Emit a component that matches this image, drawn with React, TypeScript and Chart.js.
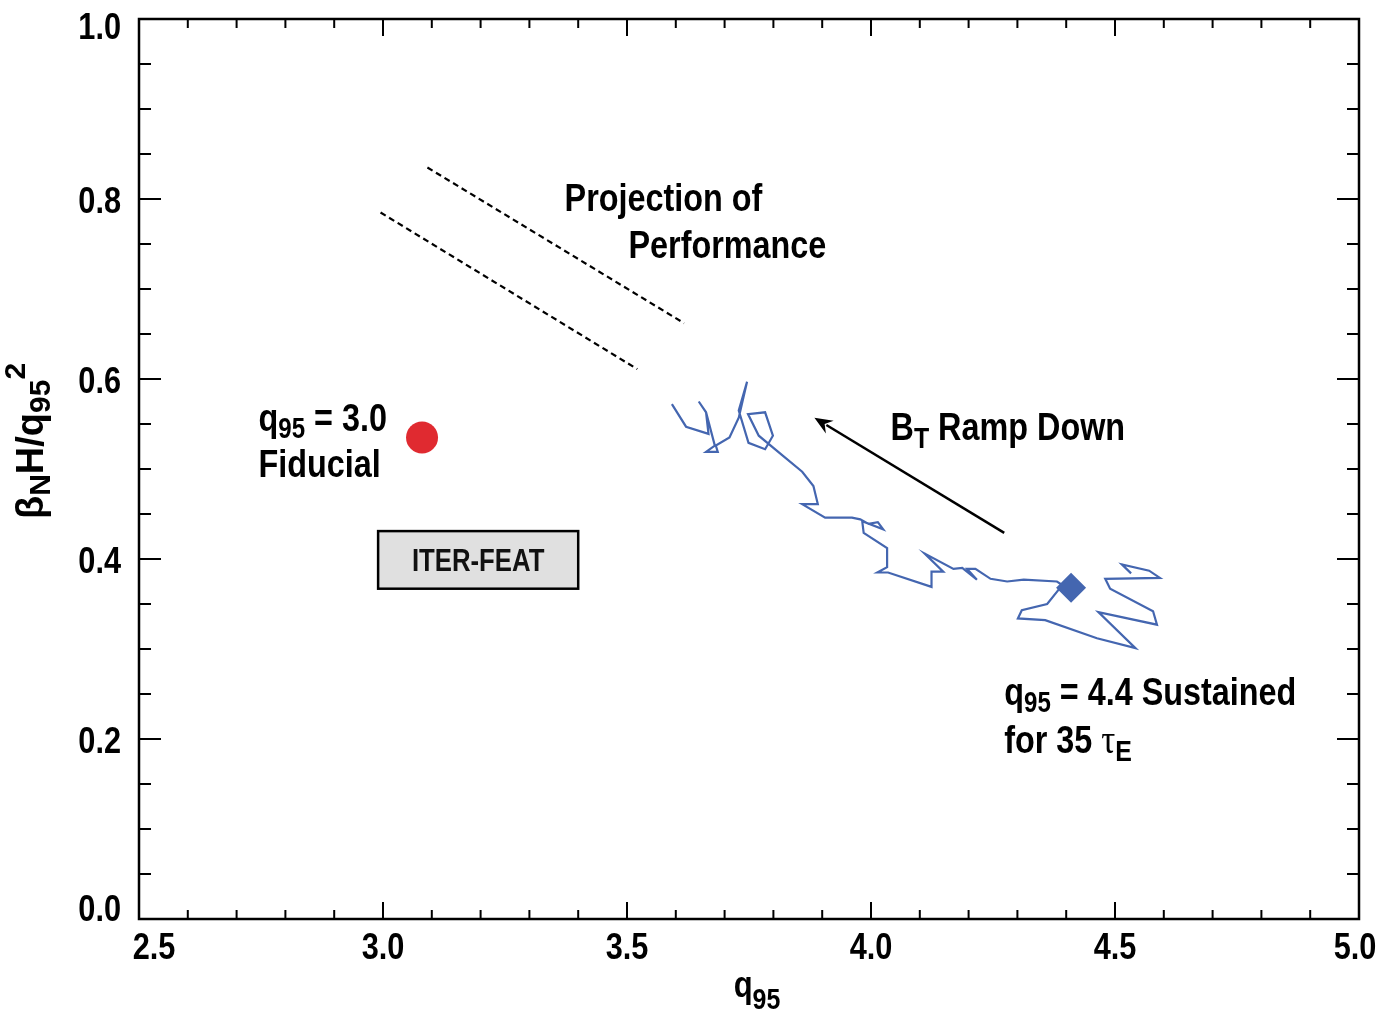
import { useEffect, useRef } from 'react';
import { Chart, registerables } from 'chart.js';

Chart.register(...registerables);

// Discharge trajectory during the toroidal-field ramp down (q95, betaN*H/q95^2)
const traceQ95 = [
  3.592, 3.621, 3.667, 3.662, 3.647, 3.662, 3.680, 3.662, 3.686, 3.682,
  3.710, 3.729, 3.746, 3.729, 3.749, 3.783, 3.799, 3.783, 3.748, 3.770,
  3.821, 3.859, 3.882, 3.891, 3.859, 3.906, 3.961, 3.978, 3.995, 4.014,
  4.025, 3.982, 3.985, 4.033, 4.033, 4.013, 4.035, 4.124, 4.124, 4.148,
  4.110, 4.169, 4.187, 4.217, 4.197, 4.214, 4.245, 4.279, 4.313, 4.381,
  4.392, 4.361, 4.309, 4.301, 4.357, 4.463, 4.542, 4.466, 4.586, 4.578,
  4.490, 4.480, 4.592, 4.570, 4.514, 4.533,
];
const traceBeta = [
  0.572, 0.547, 0.539, 0.563, 0.575, 0.563, 0.526, 0.519, 0.519, 0.526,
  0.535, 0.557, 0.597, 0.565, 0.529, 0.522, 0.537, 0.563, 0.561, 0.537,
  0.514, 0.497, 0.481, 0.461, 0.461, 0.446, 0.446, 0.444, 0.439, 0.441,
  0.433, 0.442, 0.429, 0.412, 0.391, 0.385, 0.385, 0.369, 0.386, 0.386,
  0.406, 0.389, 0.390, 0.377, 0.389, 0.389, 0.378, 0.375, 0.377, 0.375,
  0.371, 0.350, 0.343, 0.334, 0.332, 0.312, 0.301, 0.341, 0.327, 0.342,
  0.367, 0.378, 0.379, 0.387, 0.394, 0.384,
];

// Operating points
const sustainedQ95 = [4.41];
const sustainedBeta = [0.368];
const fiducialQ95 = [3.08];
const fiducialBeta = [0.535];

// ITER-FEAT design window
const iterFeatQ95 = [2.99, 3.4];
const iterFeatBeta = [0.367, 0.431];

// Projected performance lines
const projUpperQ95 = [3.091, 3.617];
const projUpperBeta = [0.835, 0.662];
const projLowerQ95 = [2.995, 3.521];
const projLowerBeta = [0.785, 0.611];

// B_T ramp-down direction
const rampQ95 = [4.273, 3.884];
const rampBeta = [0.429, 0.557];

// Axes
const xRange = [2.5, 5.0];
const yRange = [0.0, 1.0];
const xMinorStep = 0.1;
const xMajorStep = 0.5;
const yMinorStep = 0.05;
const yMajorStep = 0.2;

const BLUE = '#4466b0';
const RED = '#e02a30';
const FONT = '"Liberation Sans", Arial, sans-serif';
const SERIF = '"Liberation Serif", "DejaVu Serif", serif';
const NARROW = 0.83;

type Seg = { t: string; size: number; dy?: number; family?: string; weight?: string };

const pts = (xs: number[], ys: number[]) => xs.map((x, i) => ({ x, y: ys[i] }));

function segFont(s: Seg) {
  return `${s.weight ?? 'bold'} ${s.size}px ${s.family ?? FONT}`;
}

function richWidth(ctx: CanvasRenderingContext2D, segs: Seg[], sx: number) {
  let w = 0;
  for (const s of segs) {
    ctx.font = segFont(s);
    w += ctx.measureText(s.t).width * sx;
  }
  return w;
}

// Draws mixed-size text (sub/superscripts) on a shared baseline, condensed by sx
function drawRich(
  ctx: CanvasRenderingContext2D,
  segs: Seg[],
  x: number,
  y: number,
  align: 'left' | 'center' | 'right' = 'left',
  sx = NARROW,
) {
  const total = richWidth(ctx, segs, sx);
  let cx = align === 'center' ? x - total / 2 : align === 'right' ? x - total : x;
  ctx.textBaseline = 'alphabetic';
  ctx.textAlign = 'left';
  for (const s of segs) {
    ctx.font = segFont(s);
    const w = ctx.measureText(s.t).width * sx;
    ctx.save();
    ctx.translate(cx, y + (s.dy ?? 0));
    ctx.scale(sx, 1);
    ctx.fillText(s.t, 0, 0);
    ctx.restore();
    cx += w;
  }
}

const isMultiple = (v: number, step: number) => Math.abs(v / step - Math.round(v / step)) < 1e-6;

// Notes anchored in data units (left edge, baseline)
const notes: { q: number; b: number; segs: Seg[] }[] = [
  { q: 3.372, b: 0.787, segs: [{ t: 'Projection of', size: 39 }] },
  { q: 3.503, b: 0.734, segs: [{ t: 'Performance', size: 39 }] },
  {
    q: 4.04, b: 0.532,
    segs: [{ t: 'B', size: 39 }, { t: 'T', size: 30, dy: 8 }, { t: ' Ramp Down', size: 39 }],
  },
  {
    q: 2.745, b: 0.542,
    segs: [{ t: 'q', size: 39 }, { t: '95', size: 29, dy: 7 }, { t: ' = 3.0', size: 39 }],
  },
  { q: 2.745, b: 0.491, segs: [{ t: 'Fiducial', size: 39 }] },
  {
    q: 4.273, b: 0.238,
    segs: [{ t: 'q', size: 39 }, { t: '95', size: 29, dy: 7 }, { t: ' = 4.4 Sustained', size: 39 }],
  },
  {
    q: 4.273, b: 0.184,
    segs: [
      { t: 'for 35 ', size: 39 },
      { t: 'τ', size: 42, family: SERIF, weight: 'normal' },
      { t: 'E', size: 30, dy: 8 },
    ],
  },
];

const framePlugin = {
  id: 'frameAndNotes',
  afterDatasetsDraw(chart: Chart) {
    const { ctx, chartArea: a } = chart;
    const xs = chart.scales.x;
    const ys = chart.scales.y;
    ctx.save();

    // ITER-FEAT window
    const bx0 = xs.getPixelForValue(iterFeatQ95[0]);
    const bx1 = xs.getPixelForValue(iterFeatQ95[1]);
    const by0 = ys.getPixelForValue(iterFeatBeta[1]);
    const by1 = ys.getPixelForValue(iterFeatBeta[0]);
    ctx.fillStyle = '#e0e0e0';
    ctx.fillRect(bx0, by0, bx1 - bx0, by1 - by0);
    ctx.strokeStyle = '#000';
    ctx.lineWidth = 2.5;
    ctx.strokeRect(bx0, by0, bx1 - bx0, by1 - by0);
    ctx.fillStyle = '#111';
    drawRich(ctx, [{ t: 'ITER-FEAT', size: 31 }], (bx0 + bx1) / 2, (by0 + by1) / 2 + 11, 'center');

    // Ramp-down arrow
    const tx = xs.getPixelForValue(rampQ95[0]);
    const ty = ys.getPixelForValue(rampBeta[0]);
    const hx = xs.getPixelForValue(rampQ95[1]);
    const hy = ys.getPixelForValue(rampBeta[1]);
    const ang = Math.atan2(hy - ty, hx - tx);
    const L = 18;
    const W = 7.5;
    ctx.strokeStyle = '#000';
    ctx.lineWidth = 2.5;
    ctx.beginPath();
    ctx.moveTo(tx, ty);
    ctx.lineTo(hx - Math.cos(ang) * (L - 4), hy - Math.sin(ang) * (L - 4));
    ctx.stroke();
    ctx.fillStyle = '#000';
    ctx.beginPath();
    ctx.moveTo(hx, hy);
    ctx.lineTo(hx - Math.cos(ang) * L + Math.sin(ang) * W, hy - Math.sin(ang) * L - Math.cos(ang) * W);
    ctx.lineTo(hx - Math.cos(ang) * (L - 6), hy - Math.sin(ang) * (L - 6));
    ctx.lineTo(hx - Math.cos(ang) * L - Math.sin(ang) * W, hy - Math.sin(ang) * L + Math.cos(ang) * W);
    ctx.closePath();
    ctx.fill();

    // Text notes
    ctx.fillStyle = '#000';
    for (const n of notes) {
      drawRich(ctx, n.segs, xs.getPixelForValue(n.q), ys.getPixelForValue(n.b));
    }

    // Frame with inward ticks on all four sides, taken from the scales' ticks
    ctx.strokeStyle = '#000';
    ctx.lineWidth = 2.5;
    ctx.strokeRect(a.left, a.top, a.right - a.left, a.bottom - a.top);
    ctx.lineWidth = 2;
    ctx.beginPath();
    for (const t of xs.ticks) {
      if (t.value <= xRange[0] || t.value >= xRange[1]) continue;
      const p = xs.getPixelForValue(t.value);
      const len = isMultiple(t.value, xMajorStep) ? 17 : 9;
      ctx.moveTo(p, a.bottom);
      ctx.lineTo(p, a.bottom - len);
      ctx.moveTo(p, a.top);
      ctx.lineTo(p, a.top + len);
    }
    for (const t of ys.ticks) {
      if (t.value <= yRange[0] || t.value >= yRange[1]) continue;
      const p = ys.getPixelForValue(t.value);
      const len = isMultiple(t.value, yMajorStep) ? 22 : 12;
      ctx.moveTo(a.left, p);
      ctx.lineTo(a.left + len, p);
      ctx.moveTo(a.right, p);
      ctx.lineTo(a.right - len, p);
    }
    ctx.stroke();

    // Tick labels
    ctx.fillStyle = '#000';
    const xMajor = xs.ticks.filter((t) => isMultiple(t.value, xMajorStep));
    xMajor.forEach((t, i) => {
      let p = xs.getPixelForValue(t.value);
      if (i === 0) p += 15;
      if (i === xMajor.length - 1) p -= 4;
      drawRich(ctx, [{ t: t.value.toFixed(1), size: 37 }], p, a.bottom + 40, 'center');
    });
    const yMajor = ys.ticks.filter((t) => isMultiple(t.value, yMajorStep));
    yMajor.forEach((t, i) => {
      let p = ys.getPixelForValue(t.value);
      if (i === 0) p -= 12;
      if (i === yMajor.length - 1) p += 6;
      drawRich(ctx, [{ t: t.value.toFixed(1), size: 37 }], a.left - 18, p + 13.5, 'right');
    });

    // Axis titles
    const cxm = (a.left + a.right) / 2 + 8;
    drawRich(ctx, [{ t: 'q', size: 36 }, { t: '95', size: 29, dy: 12 }], cxm, 997, 'center', 0.86);

    ctx.translate(43, 441);
    ctx.rotate(-Math.PI / 2);
    drawRich(
      ctx,
      [
        { t: 'β', size: 38 },
        { t: 'N', size: 30, dy: 7 },
        { t: 'H/q', size: 38 },
        { t: '95', size: 30, dy: 7 },
        { t: '2', size: 30, dy: -18 },
      ],
      0,
      0,
      'center',
      1,
    );
    ctx.restore();
  },
};

export default function App() {
  const ref = useRef<HTMLCanvasElement>(null);

  useEffect(() => {
    document.body.style.margin = '0';
    const canvas = ref.current;
    if (!canvas) return;

    const chart = new Chart(canvas, {
      type: 'scatter',
      data: {
        datasets: [
          {
            label: 'q95 = 4.4 sustained',
            data: pts(sustainedQ95, sustainedBeta),
            pointStyle: 'rectRot',
            pointRadius: 15,
            backgroundColor: BLUE,
            borderWidth: 0,
          },
          {
            label: 'q95 = 3.0 fiducial',
            data: pts(fiducialQ95, fiducialBeta),
            pointStyle: 'circle',
            pointRadius: 16,
            backgroundColor: RED,
            borderWidth: 0,
          },
          {
            label: 'BT ramp down',
            data: pts(traceQ95, traceBeta),
            showLine: true,
            borderColor: BLUE,
            borderWidth: 2.2,
            pointRadius: 0,
            tension: 0,
          },
          {
            label: 'Projection (upper)',
            data: pts(projUpperQ95, projUpperBeta),
            showLine: true,
            borderColor: '#000',
            borderWidth: 2.2,
            borderDash: [6, 4],
            pointRadius: 0,
          },
          {
            label: 'Projection (lower)',
            data: pts(projLowerQ95, projLowerBeta),
            showLine: true,
            borderColor: '#000',
            borderWidth: 2.2,
            borderDash: [6, 4],
            pointRadius: 0,
          },
        ],
      },
      options: {
        responsive: false,
        animation: false,
        layout: { padding: { top: 19, right: 23, left: 0, bottom: 0 } },
        plugins: {
          legend: { display: false },
          tooltip: { enabled: false },
        },
        scales: {
          x: {
            type: 'linear',
            min: xRange[0],
            max: xRange[1],
            grid: { display: false, drawTicks: false },
            border: { display: false },
            ticks: { stepSize: xMinorStep, autoSkip: false, display: false },
            afterFit: (s: any) => {
              s.height = 94;
            },
          },
          y: {
            type: 'linear',
            min: yRange[0],
            max: yRange[1],
            grid: { display: false, drawTicks: false },
            border: { display: false },
            ticks: { stepSize: yMinorStep, autoSkip: false, display: false },
            afterFit: (s: any) => {
              s.width = 139;
            },
          },
        },
      },
      plugins: [framePlugin],
    });

    return () => chart.destroy();
  }, []);

  return <canvas ref={ref} width={1382} height={1013} style={{ display: 'block' }} />;
}
